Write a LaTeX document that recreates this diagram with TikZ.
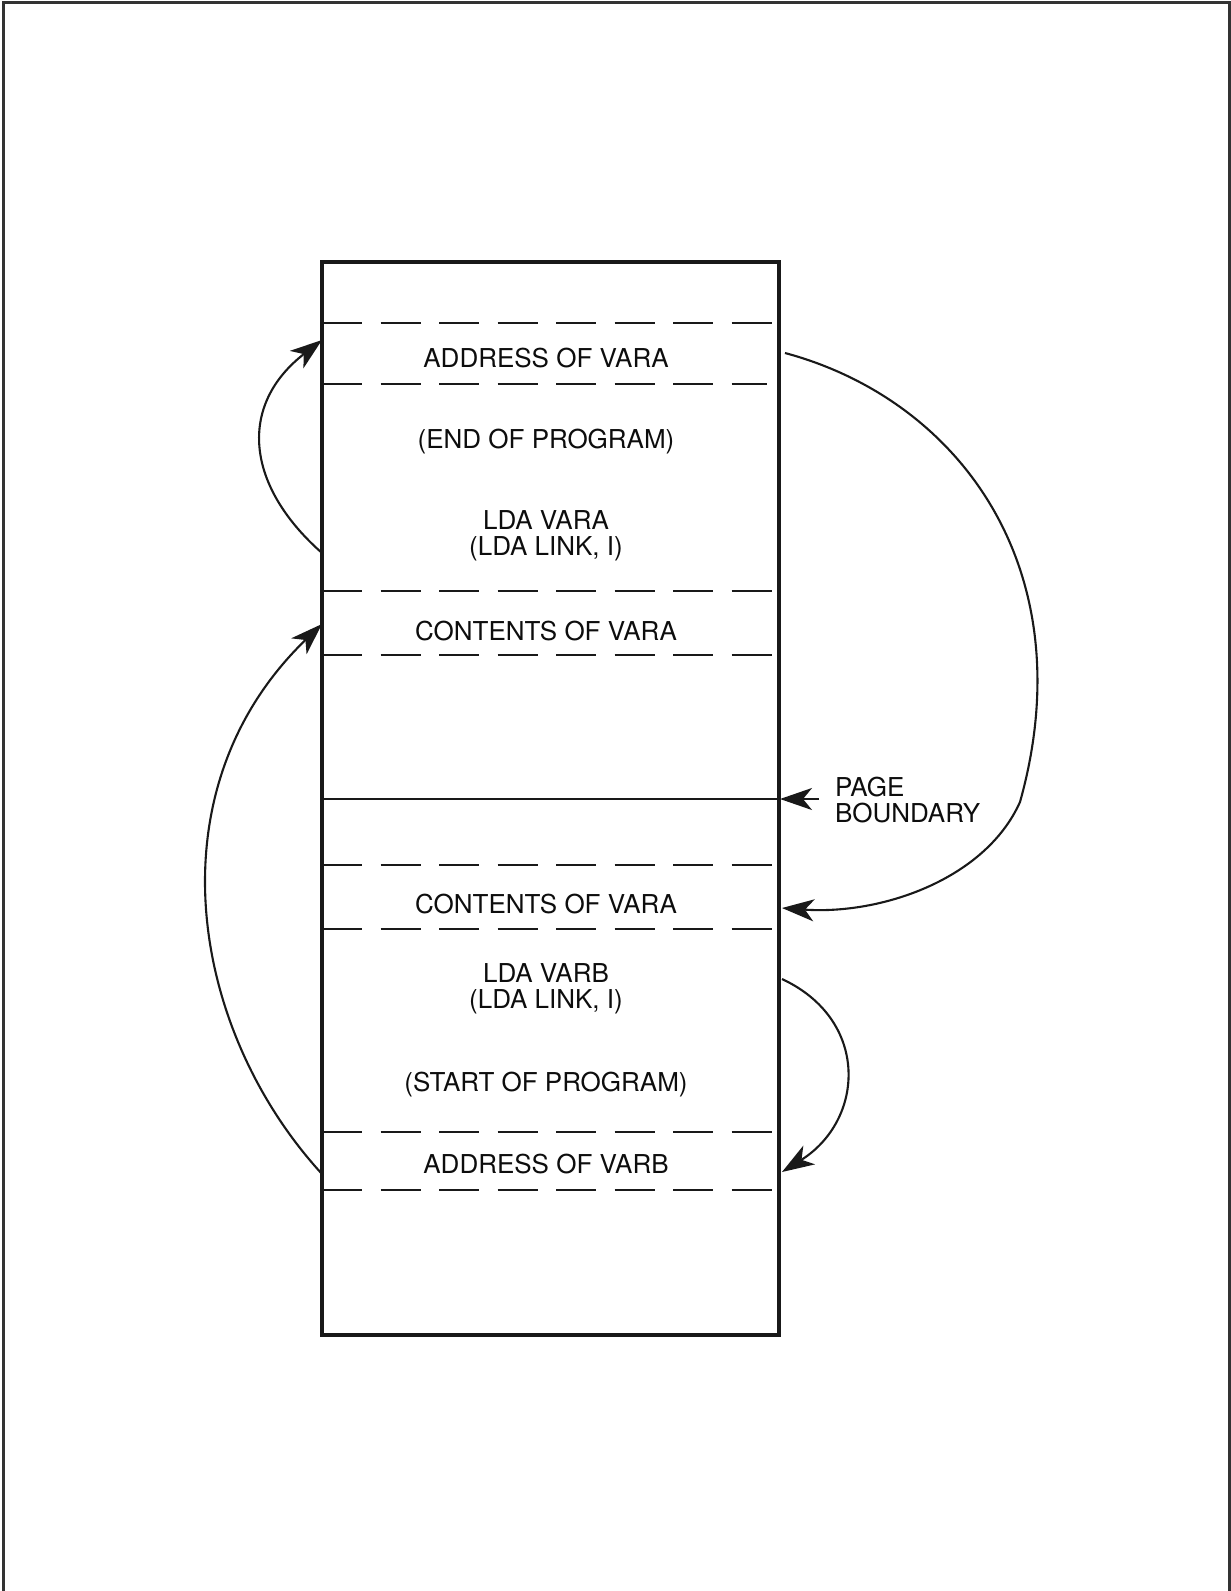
\documentclass[tikz,border=0pt]{standalone}
\usepackage{fontspec}
\setmainfont{TeX Gyre Heros}
\usetikzlibrary{arrows.meta}
\begin{document}
\begin{tikzpicture}[x=1pt,y=-1pt,
  frameline/.style={line width=3pt, draw=black!80},
  boxline/.style={line width=3.5pt, draw=black!90},
  dashline/.style={line width=2.3pt, draw=black!90, dash pattern=on 40pt off 18.5pt},
  solidline/.style={line width=2.2pt, draw=black!90},
  lbl/.style={font=\fontsize{26}{27}\selectfont, anchor=base, inner sep=0pt, text=black!95},
  lblw/.style={font=\fontsize{26}{27}\selectfont, anchor=base west, inner sep=0pt, text=black!95},
  arr/.style={line width=2.1pt, draw=black!90, -{Stealth[length=32pt,width=22pt,inset=9pt]}}]
\useasboundingbox (0,0) rectangle (1231,1591);
% outer frame
\draw[frameline] (3,1591) -- (3,2.5) -- (1229,2.5) -- (1229,1591);
% memory box
\coordinate (TL) at (322,262);
\coordinate (BR) at (779,1335);
\draw[boxline] (TL) rectangle (BR);
% dashed separators
\foreach \yy/\xe in {323/772, 384/767, 591/777, 655/777, 865/777, 929/777, 1132/777, 1190/777}
  \draw[dashline] (322,\yy) -- (\xe,\yy);
% page boundary
\draw[solidline] (322,799) -- (779,799);
% labels
\node[lbl] (addra) at (546,367) {ADDRESS OF VARA};
\node[lbl] (endp) at (546,448) {(END OF PROGRAM)};
\node[lbl] (ldaa1) at (546,529) {LDA VARA};
\node[lbl] (ldaa2) at (546,555) {(LDA LINK, I)};
\node[lbl] (conta1) at (546,640) {CONTENTS OF VARA};
\node[lbl] (conta2) at (546,913) {CONTENTS OF VARA};
\node[lbl] (ldab1) at (546,982) {LDA VARB};
\node[lbl] (ldab2) at (546,1008) {(LDA LINK, I)};
\node[lbl] (startp) at (546,1091) {(START OF PROGRAM)};
\node[lbl] (addrb) at (546,1173) {ADDRESS OF VARB};
\node[lblw] (pg1) at (835,796) {PAGE};
\node[lblw] (pg2) at (835,822) {BOUNDARY};
% connector anchor points
\coordinate (a1s) at (322,553);
\coordinate (a1e) at (322,340);
\coordinate (a2s) at (322,1174);
\coordinate (a2e) at (322,624);
\coordinate (a3s) at (785,353);
\coordinate (a3m) at (1020,802);
\coordinate (a3e) at (782,908);
\coordinate (a4s) at (782,979);
\coordinate (a4e) at (782,1172);
\coordinate (pbs) at (819,799);
\coordinate (pbe) at (780,799);
% arrows
\draw[arr] (a1s) .. controls (245,485) and (238,405) .. (a1e);
\draw[arr] (a2s) .. controls (190,1030) and (150,790) .. (a2e);
\draw[arr] (a3s) .. controls (960,400) and (1085,570) .. (a3m) .. controls (985,880) and (880,915) .. (a3e);
\draw[arr] (a4s) .. controls (870,1020) and (865,1120) .. (a4e);
\draw[arr] (pbs) -- (pbe);
\end{tikzpicture}
\end{document}
